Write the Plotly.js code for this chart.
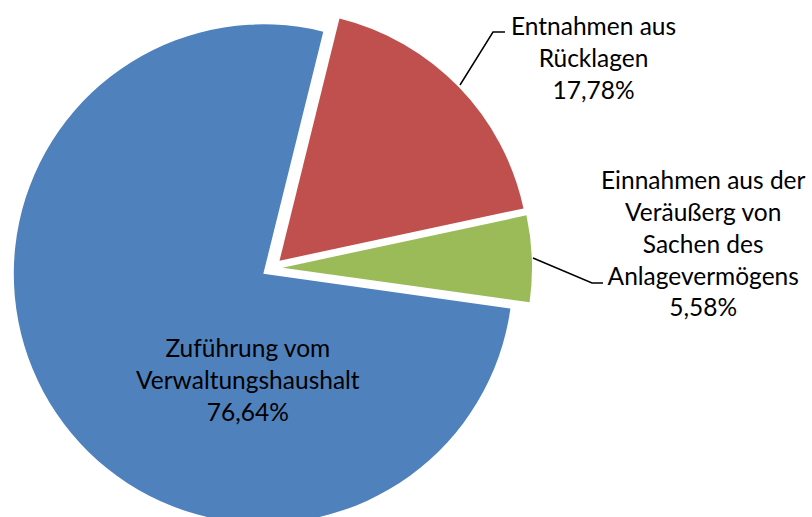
<!DOCTYPE html>
<html>
<head>
<meta charset="utf-8">
<script src="https://cdn.plot.ly/plotly-3.0.1.min.js"></script>
<style>
html,body{margin:0;padding:0;overflow:hidden;background:#fff;width:812px;height:517px;}
#chart{width:812px;height:536px;}
</style>
</head>
<body>
<div id="chart"></div>
<script>
// Data
const labelLines = [
  ["Zuführung vom", "Verwaltungshaushalt"],
  ["Entnahmen aus", "Rücklagen"],
  ["Einnahmen aus der", "Veräußerg von", "Sachen des", "Anlagevermögens"]
];
const labels = labelLines.map(l => l.join(" "));
const shares = [76.64, 17.78, 5.58];
const colors = ["#4F81BD", "#C0504D", "#9BBB59"];

const W = 812, H = 536;
const px = x => x / W;
const py = y => 1 - y / H;

const fmt = v => v.toFixed(2).replace(".", ",") + "%";
const labelText = i => labelLines[i].concat([fmt(shares[i])]).join("<br>");

// label placement (pixels)
const labelPos = [[248, 379], [593, 57], [703, 243]];

const annotations = labelPos.map((p, i) => ({
  xref: "paper", yref: "paper",
  x: px(p[0]), y: py(p[1]),
  xanchor: "center", yanchor: "middle",
  text: labelText(i),
  showarrow: false,
  align: "center",
  font: {family: "Lato, 'Liberation Sans', sans-serif", size: 24.5, color: "#000"}
}));

const leader = pts => "M " + pts.map(p => px(p[0]) + "," + py(p[1])).join(" L ");
const shapes = [
  {type: "path", xref: "paper", yref: "paper", path: leader([[460, 85], [493, 32], [505, 32]]),
   line: {color: "#000", width: 1.5}},
  {type: "path", xref: "paper", yref: "paper", path: leader([[533, 258], [592, 283], [603, 283]]),
   line: {color: "#000", width: 1.5}}
];

const trace = {
  type: "pie",
  labels: labels,
  values: shares,
  sort: false,
  direction: "clockwise",
  rotation: 98,
  pull: [0.042, 0.042, 0.042],
  marker: {colors: colors, line: {width: 0}},
  textinfo: "none",
  hoverinfo: "none",
  showlegend: false,
  domain: {x: [12 / W, 532 / W], y: [0, 1]}
};

Plotly.newPlot("chart", [trace], {
  width: W, height: H,
  margin: {l: 0, r: 0, t: 0, b: 0},
  paper_bgcolor: "#fff",
  showlegend: false,
  annotations: annotations,
  shapes: shapes
}, {staticPlot: true});
</script>
</body>
</html>
